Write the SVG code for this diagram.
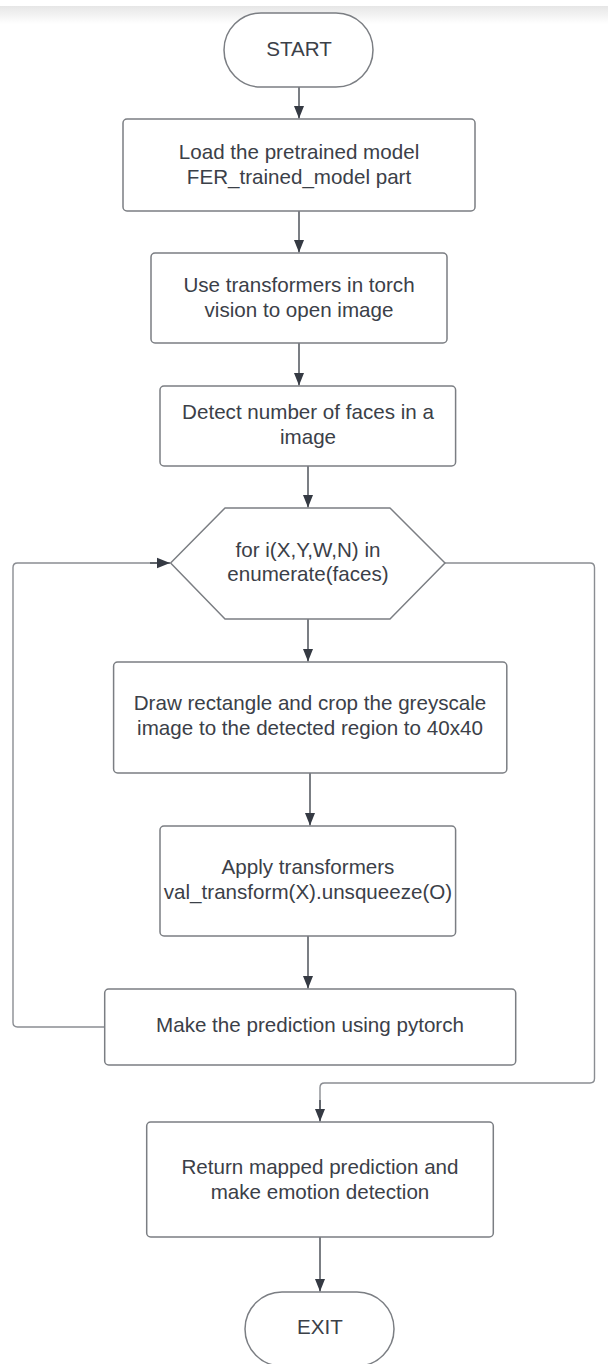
<svg xmlns="http://www.w3.org/2000/svg" width="608" height="1364" viewBox="0 0 608 1364">
  <defs>
    <linearGradient id="topShade" x1="0" y1="0" x2="0" y2="1">
      <stop offset="0" stop-color="#e6e6e6"/>
      <stop offset="1" stop-color="#ffffff"/>
    </linearGradient>
    <marker id="arrow" markerUnits="userSpaceOnUse" markerWidth="14" markerHeight="12" viewBox="0 0 14 12" refX="13" refY="6" orient="auto">
      <path d="M0,0.8 L13,6 L0,11.2 Z" fill="#353a43"/>
    </marker>
    <style>
      .box { fill: #ffffff; stroke: #7b7e83; stroke-width: 1.5; }
      .label { font-family: "Liberation Sans", Arial, sans-serif; font-size: 20.6px; fill: #3b4048; text-anchor: middle; }
      .edge { fill: none; stroke: #434850; stroke-width: 1.4; }
      .loop { fill: none; stroke: #8a8d92; stroke-width: 1.4; }
    </style>
  </defs>

  <rect x="0" y="0" width="608" height="1364" fill="#ffffff"/>
  <rect x="0" y="6" width="608" height="18" fill="url(#topShade)"/>

  <!-- connectors -->
  <g id="connectors">
    <path class="edge" d="M299,87 V118.5" marker-end="url(#arrow)"/>
    <path class="edge" d="M299,211 V252.5" marker-end="url(#arrow)"/>
    <path class="edge" d="M299,343 V385.5" marker-end="url(#arrow)"/>
    <path class="edge" d="M308,466 V507.5" marker-end="url(#arrow)"/>
    <path class="edge" d="M308,619 V661.5" marker-end="url(#arrow)"/>
    <path class="edge" d="M310,773 V825.5" marker-end="url(#arrow)"/>
    <path class="edge" d="M308,936 V988.5" marker-end="url(#arrow)"/>
    <path class="loop" d="M104.7,1027 H17.5 Q13,1027 13,1022.5 V567.5 Q13,563 17.5,563 H158"/>
    <path class="edge" d="M150,563 H170" marker-end="url(#arrow)"/>
    <path class="loop" d="M445,563 H590 Q594.5,563 594.5,567.5 V1078.5 Q594.5,1083 590,1083 H324.5 Q320,1083 320,1087.5 V1110"/>
    <path class="edge" d="M320,1100 V1121.5" marker-end="url(#arrow)"/>
    <path class="edge" d="M320,1237 V1291.5" marker-end="url(#arrow)"/>
  </g>

  <g id="start">
    <rect class="box" x="224" y="13" width="149" height="74" rx="37" ry="37"/>
    <text class="label" x="299" y="55.5">START</text>
  </g>

  <g id="load-model">
    <rect class="box" x="123" y="119" width="352" height="92" rx="4"/>
    <text class="label" x="299" y="159">Load the pretrained model</text>
    <text class="label" x="299" y="184">FER_trained_model part</text>
  </g>

  <g id="open-image">
    <rect class="box" x="151" y="253" width="296" height="90" rx="4"/>
    <text class="label" x="299" y="292">Use transformers in torch</text>
    <text class="label" x="299" y="317">vision to open image</text>
  </g>

  <g id="detect-faces">
    <rect class="box" x="160" y="386" width="295.6" height="80" rx="4"/>
    <text class="label" x="308" y="419">Detect number of faces in a</text>
    <text class="label" x="308" y="444">image</text>
  </g>

  <g id="face-loop">
    <polygon class="box" stroke-linejoin="round" points="170.6,563 225,508 390,508 445,563 390,619 225,619"/>
    <text class="label" x="308" y="557">for i(X,Y,W,N) in</text>
    <text class="label" x="308" y="581">enumerate(faces)</text>
  </g>

  <g id="crop-region">
    <rect class="box" x="113.6" y="662" width="393.2" height="111" rx="4"/>
    <text class="label" x="310" y="709.5">Draw rectangle and crop the greyscale</text>
    <text class="label" x="310" y="734.5">image to the detected region to 40x40</text>
  </g>

  <g id="apply-transform">
    <rect class="box" x="160" y="826" width="295.6" height="110" rx="4"/>
    <text class="label" x="308" y="874">Apply transformers</text>
    <text class="label" x="308" y="899">val_transform(X).unsqueeze(O)</text>
  </g>

  <g id="predict">
    <rect class="box" x="104.7" y="989" width="411" height="76" rx="4"/>
    <text class="label" x="310" y="1031.5">Make the prediction using pytorch</text>
  </g>

  <g id="return-prediction">
    <rect class="box" x="146.7" y="1122" width="346.6" height="115" rx="4"/>
    <text class="label" x="320" y="1173.5">Return mapped prediction and</text>
    <text class="label" x="320" y="1198.5">make emotion detection</text>
  </g>

  <g id="exit">
    <rect class="box" x="245" y="1292" width="149" height="74" rx="37" ry="37"/>
    <text class="label" x="320" y="1334">EXIT</text>
  </g>
</svg>
